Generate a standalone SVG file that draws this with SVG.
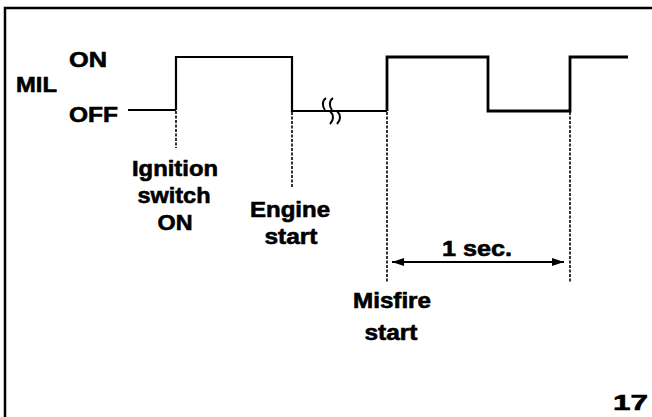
<svg xmlns="http://www.w3.org/2000/svg" width="652" height="417" viewBox="0 0 652 417">
<style>
text{font-family:"Liberation Sans",Arial,sans-serif;font-weight:bold;font-size:22px;fill:#000;stroke:#000;stroke-width:0.6}
.c{text-anchor:middle}
.w{fill:none;stroke:#000;stroke-linejoin:miter;stroke-linecap:butt}
.d{fill:none;stroke:#000;stroke-width:1.6;stroke-dasharray:3,1.5}
</style>
<defs>
<marker id="ah" viewBox="0 0 12 8" refX="12" refY="4" markerWidth="12" markerHeight="8" markerUnits="userSpaceOnUse" orient="auto-start-reverse">
<path d="M0,0 L12,4 L0,8 Z" fill="#000"/>
</marker>
</defs>
<rect width="652" height="417" fill="#fff"/>
<g id="frame">
<path d="M5,417 V8 H652" fill="none" stroke="#000" stroke-width="2.5"/>
</g>
<g id="axis-labels">
<text x="69" y="67" textLength="38" lengthAdjust="spacingAndGlyphs">ON</text>
<text x="16" y="92" textLength="41" lengthAdjust="spacingAndGlyphs">MIL</text>
<text x="69" y="122" textLength="49" lengthAdjust="spacingAndGlyphs">OFF</text>
</g>
<g id="connectors">
<path class="w" stroke-width="1.8" d="M128,110 H176"/>
<path class="w" stroke-width="2.2" d="M176,110 V57 H292 V111 H387"/>
<path class="w" stroke-width="2.8" d="M387,111 V57 H488 V111 H570 V57 H628"/>
<path d="M326,98 C322,101 322,106 325,110 M333,98 C329,101 329,106 332,110 M330,111 C334,115 334,120 330,124 M337,111 C341,115 341,120 337,124" fill="none" stroke="#000" stroke-width="2"/>
<line class="d" x1="176" y1="111" x2="176" y2="148"/>
<line class="d" x1="292" y1="112" x2="292" y2="188"/>
<line class="d" x1="387" y1="112" x2="387" y2="282"/>
<line class="d" x1="570" y1="112" x2="570" y2="282"/>
<line x1="392" y1="262" x2="564" y2="262" stroke="#000" stroke-width="2.2" marker-start="url(#ah)" marker-end="url(#ah)"/>
</g>
<g id="ignition">
<text class="c" x="175" y="176" textLength="86" lengthAdjust="spacingAndGlyphs">Ignition</text>
<text class="c" x="174" y="203" textLength="73" lengthAdjust="spacingAndGlyphs">switch</text>
<text class="c" x="175" y="230" textLength="35" lengthAdjust="spacingAndGlyphs">ON</text>
</g>
<g id="engine">
<text class="c" x="290" y="217" textLength="80" lengthAdjust="spacingAndGlyphs">Engine</text>
<text class="c" x="291" y="244" textLength="53" lengthAdjust="spacingAndGlyphs">start</text>
</g>
<g id="misfire">
<text class="c" x="392" y="308" textLength="78" lengthAdjust="spacingAndGlyphs">Misfire</text>
<text class="c" x="391" y="340" textLength="53" lengthAdjust="spacingAndGlyphs">start</text>
</g>
<g id="duration">
<text class="c" x="477" y="256" textLength="70" lengthAdjust="spacingAndGlyphs">1 sec.</text>
</g>
<g id="figure-number">
<text x="613" y="410" font-size="25" textLength="35" lengthAdjust="spacingAndGlyphs">17</text>
</g>
</svg>
